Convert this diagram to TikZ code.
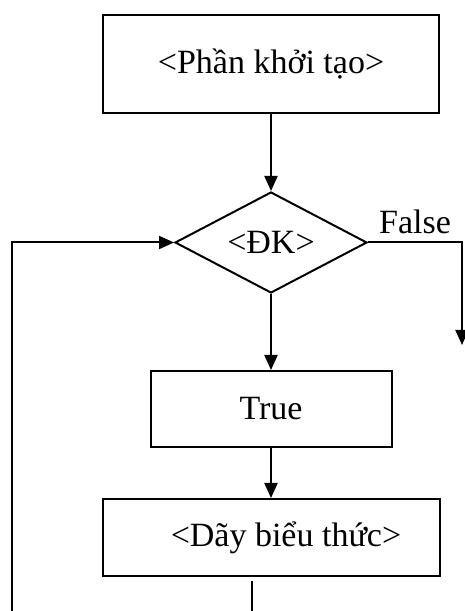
\documentclass[tikz,border=0pt]{standalone}
\usepackage{fontspec}
\setmainfont{Liberation Serif}
\usetikzlibrary{positioning,shapes.geometric,arrows.meta}

\begin{document}
\begin{tikzpicture}[x=1pt, y=1pt, line width=2pt, >={Triangle[length=15pt,width=13pt]},
                    main node/.style={rectangle,draw,inner sep=0pt,font=\fontsize{34}{40}\selectfont},
                    cond node/.style={diamond,draw,inner sep=0pt,aspect=1.9,font=\fontsize{34}{40}\selectfont}]

  \useasboundingbox (0,0) rectangle (464,611);

  \node[main node,minimum width=336pt,minimum height=98pt] (1) at (271,547) {<Phần khởi tạo>};
  \node[cond node,minimum width=192pt,minimum height=101pt] (2) [below of=1,node distance=178.5pt] {<ĐK>};
  \node[main node,minimum width=241pt,minimum height=76pt] (3) [below of=2,node distance=166.5pt] {True};
  \node[main node,minimum width=337pt,minimum height=77pt] (4) [below of=3,node distance=128.5pt] {\hspace*{30pt}<Dãy biểu thức>};

  \coordinate (f) at (462,266);
  \coordinate (b1) at ([xshift=-19pt,yshift=-4pt]4.south);
  \coordinate (b2) at (252,0);
  \coordinate (l) at (12,0);

  \draw[->] (1) -- (2);
  \draw[->] (2) -- (3);
  \draw[->] (3) -- (4);
  \draw[->] (2.east) -| node[pos=0.25,above=6pt,inner sep=2pt,font=\fontsize{34}{40}\selectfont] {False} (f);
  \draw (b1) -- (b2);
  \draw[->] (l) |- (2.west);

\end{tikzpicture}
\end{document}
